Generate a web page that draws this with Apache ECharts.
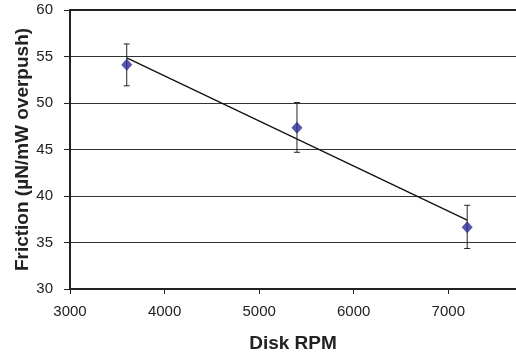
<!DOCTYPE html>
<html>
<head>
<meta charset="utf-8">
<script src="https://cdn.jsdelivr.net/npm/echarts@6/dist/echarts.min.js"></script>
<style>
html,body{margin:0;padding:0;background:#fff;}
#chart{width:516px;height:362px;}
</style>
</head>
<body>
<div id="chart"></div>
<script>
// Data
const rpm = [3600, 5400, 7200];
const friction = [54.1, 47.35, 36.65];
const errLow = [51.85, 44.7, 34.35];
const errHigh = [56.35, 50.05, 39.0];
const trendX = [3600, 7200];
const trendY = [54.85, 37.4];
const xTicks = [3000, 4000, 5000, 6000, 7000];
const yTicks = [30, 35, 40, 45, 50, 55, 60];

const font = 'Liberation Sans, Arial, sans-serif';
const chart = echarts.init(document.getElementById('chart'), null, {renderer: 'canvas'});

const errData = rpm.map((x, i) => [x, errLow[i], errHigh[i]]);

chart.setOption({
  animation: false,
  backgroundColor: '#fff',
  grid: {left: 70, right: 0, top: 10, bottom: 73, containLabel: false},
  xAxis: [{
    type: 'value',
    min: xTicks[0], max: 7716, interval: 1000,
    name: 'Disk RPM', nameLocation: 'middle', nameGap: 45, nameMoveOverlap: false,
    nameTextStyle: {fontFamily: font, fontSize: 19, fontWeight: 'bold', color: '#222'},
    axisLine: {show: true, onZero: false, lineStyle: {color: '#222', width: 2}},
    axisTick: {show: true, length: 5, lineStyle: {color: '#222', width: 1}},
    axisLabel: {fontFamily: font, fontSize: 15, color: '#222', margin: 15, showMaxLabel: false,
      formatter: v => xTicks.includes(v) ? String(v) : ''},
    splitLine: {show: false}
  }, {
    type: 'value', position: 'top',
    min: xTicks[0], max: 7716,
    axisLine: {show: true, onZero: false, lineStyle: {color: '#222', width: 2}},
    axisTick: {show: false}, axisLabel: {show: false}, splitLine: {show: false}
  }],
  yAxis: {
    type: 'value',
    min: yTicks[0], max: yTicks[yTicks.length - 1], interval: 5,
    name: 'Friction (µN/mW overpush)', nameLocation: 'middle', nameGap: 38, nameMoveOverlap: false,
    nameTextStyle: {fontFamily: font, fontSize: 19, fontWeight: 'bold', color: '#222'},
    axisLine: {show: true, onZero: false, lineStyle: {color: '#222', width: 2}},
    axisTick: {show: true, length: 6, lineStyle: {color: '#222', width: 1}},
    axisLabel: {fontFamily: font, fontSize: 15, color: '#222', margin: 17},
    splitLine: {show: true, lineStyle: {color: '#333', width: 1}}
  },
  series: [
    {
      type: 'line', data: trendX.map((x, i) => [x, trendY[i]]),
      symbol: 'none', lineStyle: {color: '#111', width: 1.3}, z: 2
    },
    {
      type: 'custom', data: errData, z: 3,
      renderItem: function (params, api) {
        const top = api.coord([api.value(0), api.value(2)]);
        const bot = api.coord([api.value(0), api.value(1)]);
        const c = 3;
        const st = {stroke: '#222', lineWidth: 1};
        return {type: 'group', children: [
          {type: 'line', shape: {x1: top[0], y1: top[1], x2: bot[0], y2: bot[1]}, style: st},
          {type: 'line', shape: {x1: top[0] - c, y1: top[1], x2: top[0] + c, y2: top[1]}, style: st},
          {type: 'line', shape: {x1: bot[0] - c, y1: bot[1], x2: bot[0] + c, y2: bot[1]}, style: st}
        ]};
      }
    },
    {
      type: 'scatter', data: rpm.map((x, i) => [x, friction[i]]),
      symbol: 'diamond', symbolSize: [11, 12],
      itemStyle: {color: '#2a2a96'}, z: 4
    }
  ]
});
</script>
</body>
</html>
